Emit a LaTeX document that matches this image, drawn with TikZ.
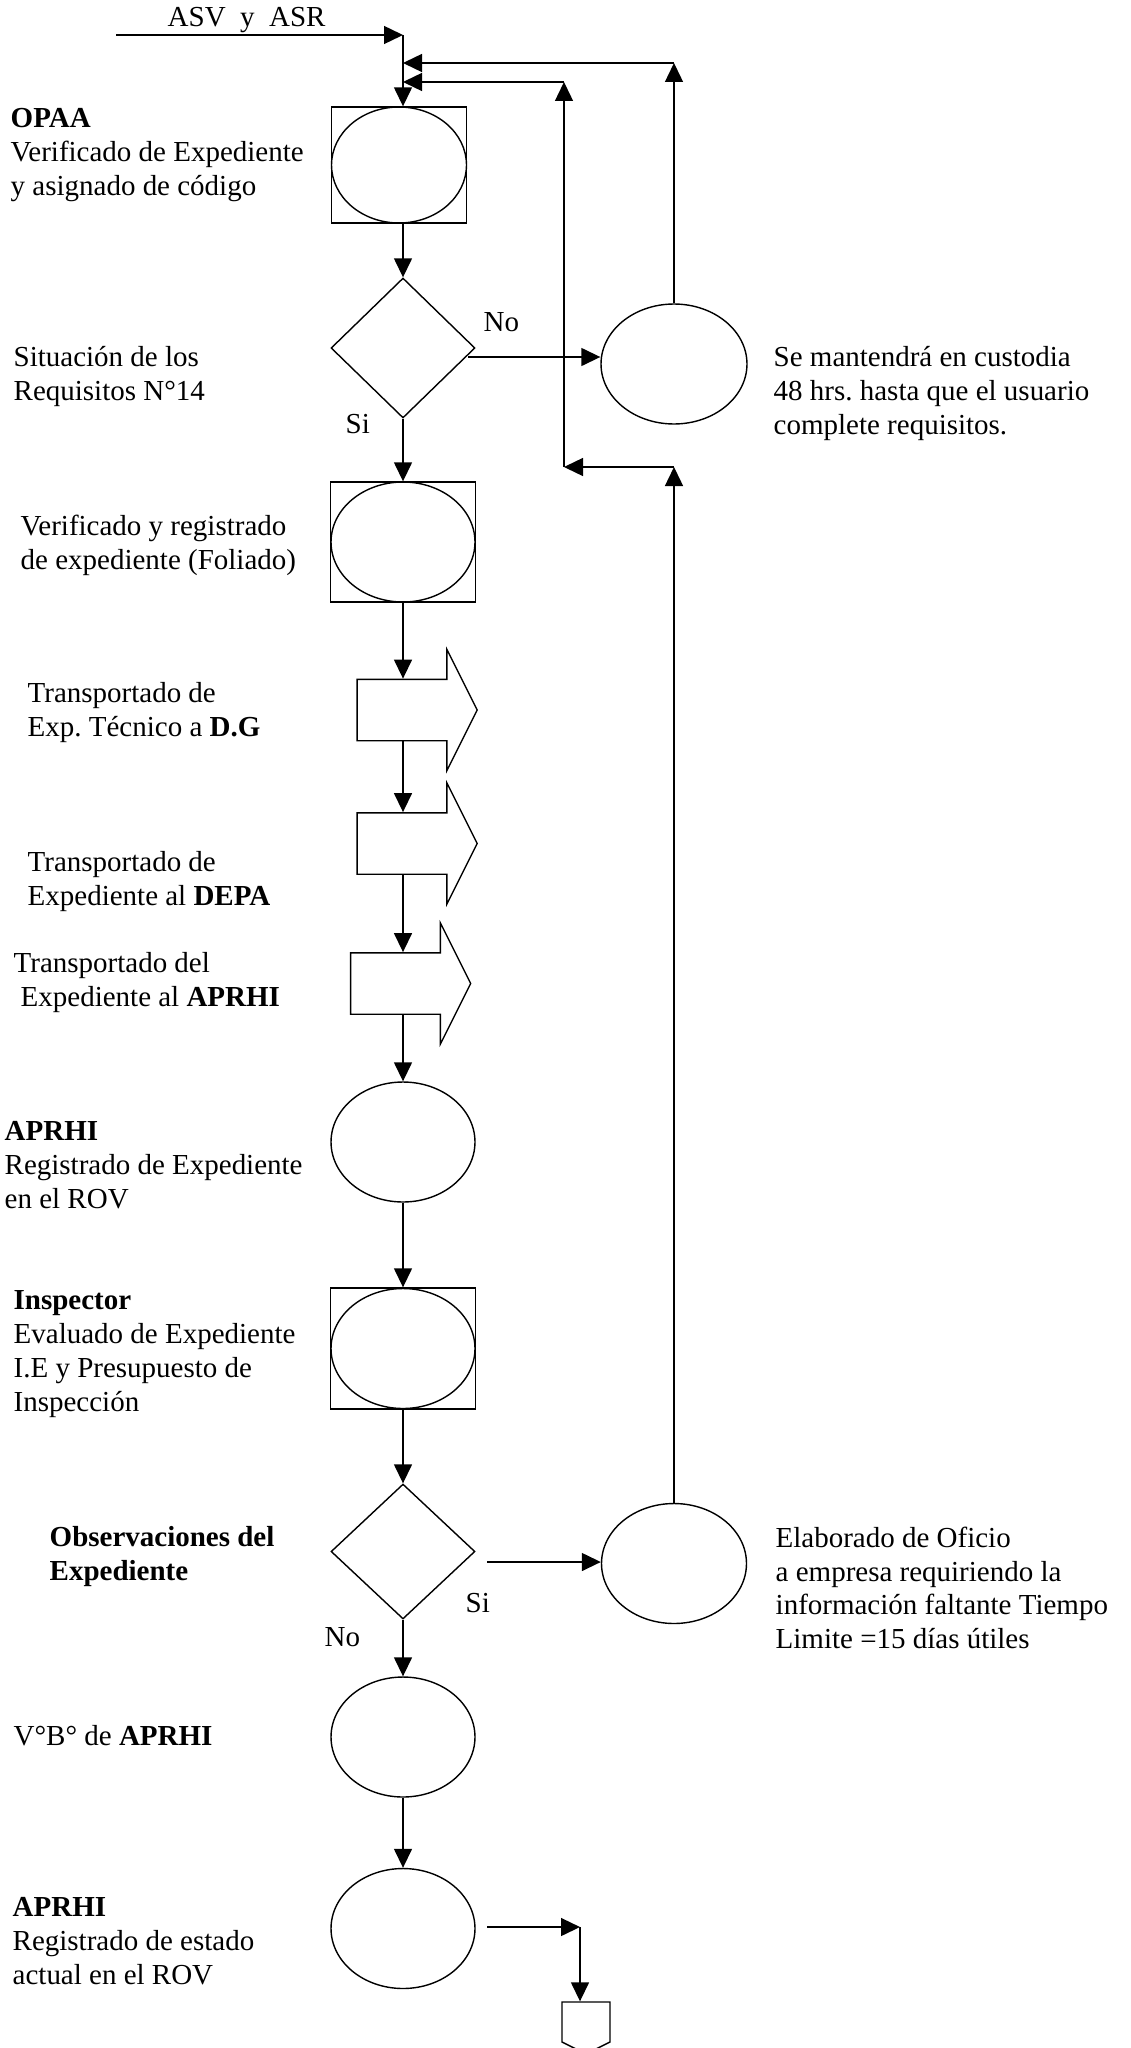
\documentclass[tikz,border=0pt]{standalone}
\usepackage{fontspec}
\setmainfont{Liberation Serif}
\usetikzlibrary{shapes.geometric,shapes.arrows,shapes.symbols,arrows.meta}
\frenchspacing

\begin{document}
\begin{tikzpicture}[x=0.02cm, y=-0.02cm, line width=0.8pt,
		>={Triangle[length=0.38cm,width=0.36cm]},
		every node/.style = {font=\fontsize{16.5}{19.3}\selectfont},
		box/.style = {draw, rectangle, inner sep=0pt, minimum width=2.9cm, minimum height=2.4cm},
		oper/.style = {draw, ellipse, inner sep=0pt, minimum width=2.88cm, minimum height=2.4cm},
		decision/.style = {draw, diamond, inner sep=0pt, minimum width=2.88cm, minimum height=2.8cm},
		transp/.style = {draw, single arrow, inner sep=0pt, text height=0.6cm, text depth=0.6cm,
			minimum width=2.4cm, minimum height=2.4cm,
			single arrow head extend=0.6cm, single arrow tip angle=126.87},
		offpage/.style = {draw, signal, signal to=south, signal pointer angle=127, inner sep=0pt,
			minimum width=0.96cm, minimum height=0.8cm},
		txt/.style = {align=left, anchor=north west, inner sep=0pt}]
		\useasboundingbox (0,0) rectangle (1131,2048);

		% main column
		\node[box, minimum width=2.7cm, minimum height=2.32cm] (b1) at (399,165) {};
		\node[oper, minimum width=2.7cm, minimum height=2.32cm] (b1e) at (b1) {};
		\node[decision] (d1) at (403,348) {};
		\node[box] (b2) at (403,542) {};
		\node[oper] (b2e) at (b2) {};
		\node[transp] (t1) at (409.5,710) {};
		\node[transp] (t2) at (409.5,843.5) {};
		\node[transp] (t3) at (403,983.5) {};
		\node[oper] (c3) at (403,1142) {};
		\node[box, minimum height=2.42cm] (b3) at (403,1348.5) {};
		\node[oper] (b3e) at (b3) {};
		\node[decision, minimum height=2.7cm] (d2) at (403,1551.5) {};
		\node[oper] (c4) at (403,1737) {};
		\node[oper] (c5) at (403,1928.5) {};
		\node[offpage] (fin) at (586,2022) {};

		% right column
		\node[oper, minimum width=2.92cm] (c1) at (674,364) {};
		\node[oper, minimum width=2.9cm] (c2) at (674,1563.5) {};

		\coordinate (in) at (116,35);
		\coordinate (j0) at (403,35);
		\coordinate (k1) at (674,63);
		\coordinate (k2) at (564,82);
		\coordinate (k3) at (674,467);
		\coordinate (k4) at (564,467);
		\coordinate (k5) at (580,1927);
		\coordinate (k6) at (487,1927);
		\coordinate (e1) at (468,357);
		\coordinate (e2) at (487,1562);

		% texts
		\node[anchor=base west, inner sep=0pt] (asv) at (167,27) {ASV\ \ y\ \ ASR};
		\node[txt] (topaa) at (10,108) {\textbf{OPAA}\\Verificado de Expediente\\y asignado de código};
		\node[txt] (tsit) at (13,346) {Situación de los\\Requisitos N°14};
		\node[txt] (tcust) at (773,346) {Se mantendrá en custodia\\48 hrs. hasta que el usuario\\complete requisitos.};
		\node[anchor=base west, inner sep=0pt] (no1) at (483,331) {No};
		\node[anchor=base west, inner sep=0pt] (si1) at (345,433) {Si};
		\node[txt] (tfol) at (20,514) {Verificado y registrado\\de expediente (Foliado)};
		\node[txt] (tdg) at (27,682) {Transportado de\\Exp. Técnico a \textbf{D.G}};
		\node[txt] (tdepa) at (27,851) {Transportado de\\Expediente al \textbf{DEPA}};
		\node[txt] (taprhi) at (13,952) {Transportado del\\\hspace{0.14cm}Expediente al \textbf{APRHI}};
		\node[txt] (trov) at (4,1121) {\textbf{APRHI}\\Registrado de Expediente\\en el ROV};
		\node[txt] (tinsp) at (13,1290) {\textbf{Inspector}\\Evaluado de Expediente\\I.E y Presupuesto de\\Inspección};
		\node[txt] (tobs) at (49,1526) {\textbf{Observaciones del}\\\textbf{Expediente}};
		\node[txt] (tofic) at (775,1526) {Elaborado de Oficio\\a empresa requiriendo la\\información faltante Tiempo\\Limite =15 días útiles};
		\node[anchor=base west, inner sep=0pt] (si2) at (465,1612) {Si};
		\node[anchor=base west, inner sep=0pt] (no2) at (324,1646) {No};
		\node[anchor=base west, inner sep=0pt] (tvb) at (13,1745) {V°B° de \textbf{APRHI}};
		\node[txt] (test) at (12,1897) {\textbf{APRHI}\\Registrado de estado\\actual en el ROV};

		% flow
		\draw[->] (in) -- (j0);
		\draw[->] (j0) -- (j0 |- b1.north);
		\draw[->] (b1.south -| d1) -- (d1.north);
		\draw[->] (d1.south) -- (b2.north);
		\draw[->] (b2.south) -- (b2.south |- t1.north);
		\draw[->] (t1.south -| b2) -- (t2.north -| b2);
		\draw[->] (t2.south -| b2) -- (t3.north -| b2);
		\draw[->] (t3.south -| b2) -- (c3.north);
		\draw[->] (c3.south) -- (b3.north);
		\draw[->] (b3.south) -- (d2.north);
		\draw[->] (d2.south) -- (c4.north);
		\draw[->] (c4.south) -- (c5.north);
		\draw[->] (k6) -- (k5);
		\draw[->] (k5) -- (k5 |- fin.north);

		% returns
		\draw[->] (e1) -- (e1 -| c1.west);
		\draw[->] (c1.north) -- (k1);
		\draw[->] (k1) -- (k1 -| j0);
		\draw[->] (e2) -- (e2 -| c2.west);
		\draw[->] (c2.north) -- (k3);
		\draw[->] (k3) -- (k4);
		\draw[->] (k4) -- (k2);
		\draw[->] (k2) -- (k2 -| j0);
	\end{tikzpicture}
\end{document}
